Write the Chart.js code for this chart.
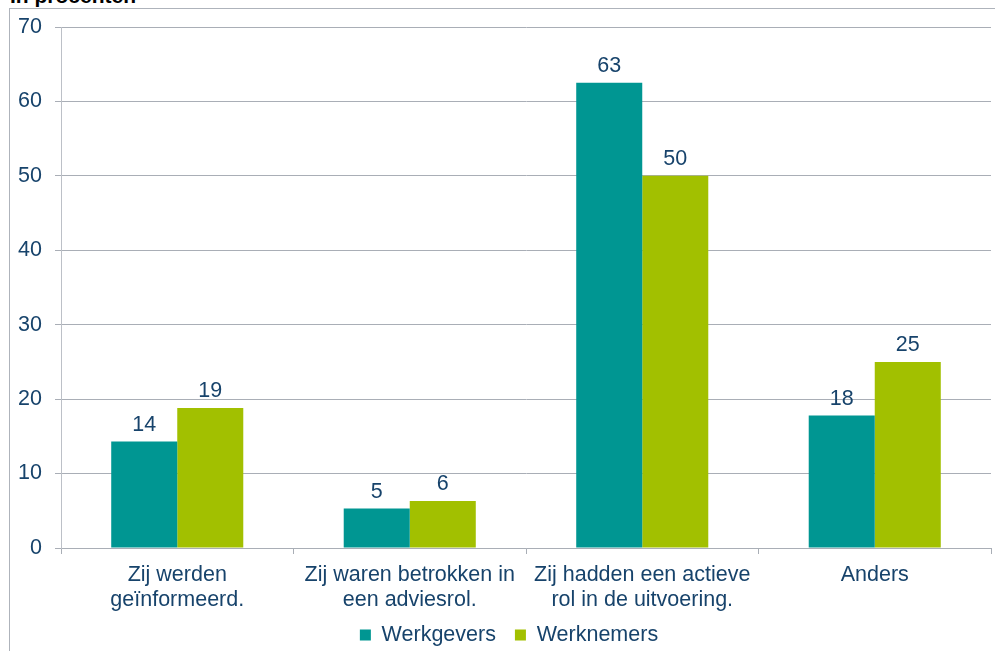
<!DOCTYPE html>
<html>
<head>
<meta charset="utf-8">
<script src="https://cdn.jsdelivr.net/npm/chart.js@4/dist/chart.umd.min.js"></script>
<style>
  html, body { margin: 0; padding: 0; background: #fff; overflow: hidden; }
  #wrap { position: relative; width: 995px; height: 651px; }
  #title { position: absolute; left: 10px; top: -15px; font: bold 21px "Liberation Sans", Arial, sans-serif; line-height: 21px; color: #000; }
  #frame { position: absolute; left: 9px; top: 8px; width: 1000px; height: 660px; background: #fff;
           border-left: 1px solid #aeb3bb; border-top: 1px solid #aeb3bb; }
  #chart { position: absolute; left: 0; top: 0; }
</style>
</head>
<body>
<div id="wrap">
  <div id="title">In procenten</div>
  <div id="frame"></div>
  <canvas id="chart" width="995" height="651"></canvas>
</div>
<script>
const categories = [
  ['Zij werden', 'geïnformeerd.'],
  ['Zij waren betrokken in', 'een adviesrol.'],
  ['Zij hadden een actieve', 'rol in de uitvoering.'],
  'Anders'
];
const werkgevers = [14.3, 5.3, 62.5, 17.8];
const werknemers = [18.8, 6.3, 50.0, 25.0];
const yTicks = [0, 10, 20, 30, 40, 50, 60, 70];

const textColor = '#17436b';
const gridColor = '#a9aeb6';
const font = { family: '"Liberation Sans", Arial, sans-serif', size: 21.5 };

// numbers above the bars
const valueLabels = {
  id: 'valueLabels',
  afterDatasetsDraw(chart) {
    const ctx = chart.ctx;
    ctx.save();
    ctx.font = font.size + 'px ' + font.family;
    ctx.fillStyle = textColor;
    ctx.textAlign = 'center';
    ctx.textBaseline = 'alphabetic';
    chart.data.datasets.forEach((ds, i) => {
      chart.getDatasetMeta(i).data.forEach((bar, j) => {
        ctx.fillText(Math.round(ds.data[j]), bar.x, bar.y - 11);
      });
    });
    ctx.restore();
  }
};

// legend sits a bit right of centre and closer to the axis labels in the original
const legendNudge = {
  id: 'legendNudge',
  beforeDraw(chart) {
    const lg = chart.legend;
    lg.left += 27;
    lg.top -= 7.75;
  }
};

new Chart(document.getElementById('chart'), {
  type: 'bar',
  data: {
    labels: categories,
    datasets: [
      { label: 'Werkgevers', data: werkgevers, backgroundColor: '#009692' },
      { label: 'Werknemers', data: werknemers, backgroundColor: '#a2c000' }
    ]
  },
  options: {
    responsive: false,
    animation: false,
    events: [],
    layout: { padding: { left: 0, right: 4, top: 27, bottom: 0 } },
    datasets: {
      bar: { categoryPercentage: 0.568, barPercentage: 1, borderWidth: 0 }
    },
    scales: {
      x: {
        grid: { drawOnChartArea: false, drawTicks: true, tickLength: 6, color: gridColor, offset: true },
        border: { color: gridColor, width: 1 },
        ticks: { color: textColor, font: { ...font, lineHeight: '25px' }, padding: 8.4, maxRotation: 0, autoSkip: false },
        afterFit: scale => { scale.height = 65; }
      },
      y: {
        min: 0,
        max: 70,
        afterBuildTicks: scale => { scale.ticks = yTicks.map(v => ({ value: v })); },
        grid: { color: gridColor, tickLength: 6 },
        border: { color: '#bcc0c7', width: 1 },
        ticks: { color: textColor, font: font, padding: 13 },
        afterFit: scale => { scale.width = 61; }
      }
    },
    plugins: {
      title: { display: false },
      tooltip: { enabled: false },
      legend: {
        position: 'bottom',
        maxHeight: 38,
        labels: { boxWidth: 11, boxHeight: 11, padding: 19, color: textColor, font: font }
      }
    }
  },
  plugins: [valueLabels, legendNudge]
});
</script>
</body>
</html>
